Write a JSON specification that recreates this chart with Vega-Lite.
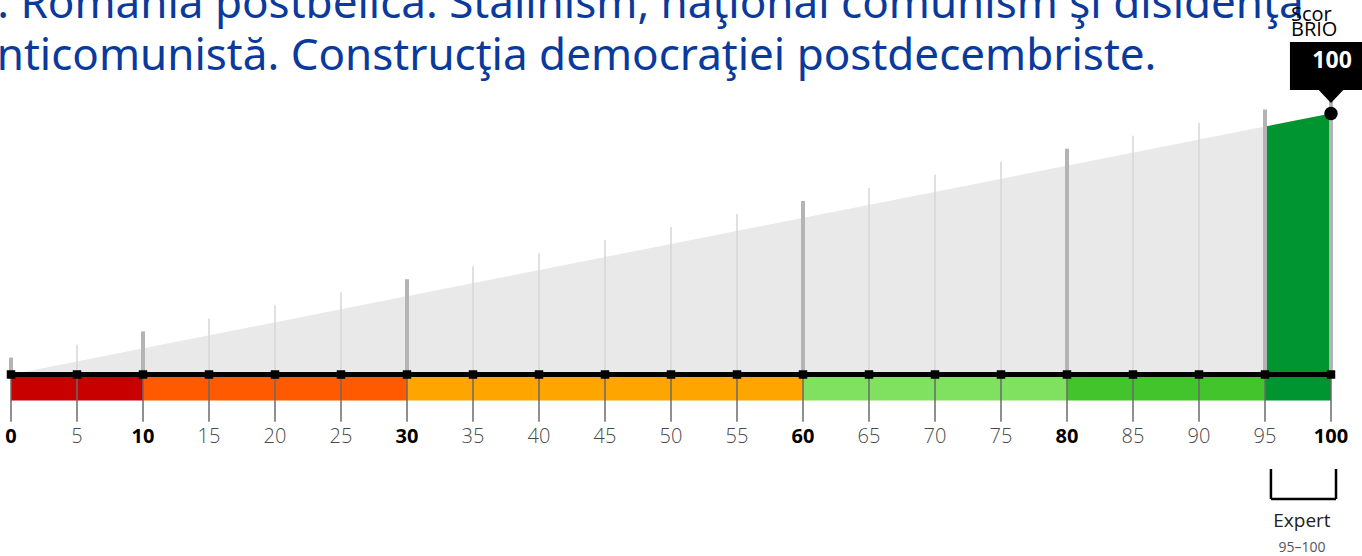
{
  "$schema": "https://vega.github.io/schema/vega-lite/v6.json",
  "width": 1320,
  "height": 556,
  "autosize": "none",
  "padding": {"left": 11, "top": 0, "right": 31, "bottom": 0},
  "background": "white",
  "config": {"view": {"stroke": null}},
  "datasets": {
    "heading": [{"text": "3. România postbelică. Stalinism, naţional comunism şi disidenţa\nanticomunistă. Construcţia democraţiei postdecembriste."}],
    "wedge": [{"x": 0, "y": 0}, {"x": 95, "y": 95}, {"x": 100, "y": 100}],
    "green": [{"x": 95, "y": 95}, {"x": 100, "y": 100}],
    "ticks": [
      {"x": 0, "h": 6.5, "major": true},
      {"x": 5, "h": 11.5, "major": false},
      {"x": 10, "h": 16.5, "major": true},
      {"x": 15, "h": 21.5, "major": false},
      {"x": 20, "h": 26.5, "major": false},
      {"x": 25, "h": 31.5, "major": false},
      {"x": 30, "h": 36.5, "major": true},
      {"x": 35, "h": 41.5, "major": false},
      {"x": 40, "h": 46.5, "major": false},
      {"x": 45, "h": 51.5, "major": false},
      {"x": 50, "h": 56.5, "major": false},
      {"x": 55, "h": 61.5, "major": false},
      {"x": 60, "h": 66.5, "major": true},
      {"x": 65, "h": 71.5, "major": false},
      {"x": 70, "h": 76.5, "major": false},
      {"x": 75, "h": 81.5, "major": false},
      {"x": 80, "h": 86.5, "major": true},
      {"x": 85, "h": 91.5, "major": false},
      {"x": 90, "h": 96.5, "major": false},
      {"x": 95, "h": 101.5, "major": true},
      {"x": 100, "h": 106.5, "major": true}
    ],
    "bands": [
      {"a": 0, "b": 10, "level": "0–10"},
      {"a": 10, "b": 30, "level": "10–30"},
      {"a": 30, "b": 60, "level": "30–60"},
      {"a": 60, "b": 80, "level": "60–80"},
      {"a": 80, "b": 95, "level": "80–95"},
      {"a": 95, "b": 100, "level": "95–100"}
    ],
    "score": [{"score": 100, "name": "Scor\nBRIO"}],
    "expert": [{"a": 95.45, "b": 100.38, "mid": 97.8, "label": "Expert", "range": "95–100"}]
  },
  "layer": [
    {
      "data": {"name": "wedge"},
      "mark": {"type": "area", "color": "#e9e9e9", "interpolate": "linear"},
      "encoding": {
        "x": {"field": "x", "type": "quantitative", "axis": null, "scale": {"domain": [0, 100], "nice": false, "zero": false}},
        "y": {"field": "y", "type": "quantitative", "axis": null, "scale": {"domain": [-69.54, 143.49], "nice": false, "zero": false}},
        "y2": {"datum": 0}
      }
    },
    {
      "data": {"name": "green"},
      "mark": {"type": "area", "color": "#009530"},
      "encoding": {
        "x": {"field": "x", "type": "quantitative", "axis": null},
        "y": {"field": "y", "type": "quantitative", "axis": null},
        "y2": {"datum": 0}
      }
    },
    {
      "data": {"name": "ticks"},
      "transform": [{"filter": "!datum.major"}],
      "mark": {"type": "rule", "color": "#d6d6d6", "strokeWidth": 1.5},
      "encoding": {
        "x": {"field": "x", "type": "quantitative", "axis": null},
        "y": {"field": "h", "type": "quantitative", "axis": null},
        "y2": {"datum": 0}
      }
    },
    {
      "data": {"name": "ticks"},
      "transform": [{"filter": "datum.major"}],
      "mark": {"type": "rule", "color": "#b4b4b4", "strokeWidth": 4},
      "encoding": {
        "x": {"field": "x", "type": "quantitative", "axis": null},
        "y": {"field": "h", "type": "quantitative", "axis": null},
        "y2": {"datum": 0}
      }
    },
    {
      "data": {"name": "bands"},
      "mark": {"type": "rect"},
      "encoding": {
        "x": {"field": "a", "type": "quantitative", "axis": null},
        "x2": {"field": "b"},
        "y": {"datum": 0, "axis": null},
        "y2": {"datum": -10.0},
        "color": {
          "field": "level", "type": "nominal", "legend": null,
          "scale": {"domain": ["0–10", "10–30", "30–60", "60–80", "80–95", "95–100"], "range": ["#c80000", "#ff5a00", "#ffa500", "#80e060", "#44c42c", "#009530"]}
        }
      }
    },
    {
      "data": {"name": "ticks"},
      "mark": {"type": "rule", "color": "#6a6a6a", "strokeWidth": 1.5},
      "encoding": {
        "x": {"field": "x", "type": "quantitative", "axis": null},
        "y": {"datum": 0, "axis": null},
        "y2": {"datum": -18.1}
      }
    },
    {
      "data": {"name": "bands"},
      "mark": {"type": "rule", "color": "#000000", "strokeWidth": 4},
      "encoding": {
        "x": {"datum": 0, "axis": null},
        "x2": {"datum": 100},
        "y": {"datum": 0, "axis": null}
      }
    },
    {
      "data": {"name": "ticks"},
      "mark": {"type": "point", "shape": "square", "filled": true, "color": "#000000", "size": 72, "opacity": 1},
      "encoding": {
        "x": {"field": "x", "type": "quantitative", "axis": null},
        "y": {"datum": 0, "axis": null}
      }
    },
    {
      "data": {"name": "ticks"},
      "transform": [{"filter": "!datum.major || datum.x == 95"}],
      "mark": {"type": "text", "font": "Open Sans", "fontSize": 20, "fontWeight": 300, "color": "#4a4a4a", "align": "center", "baseline": "alphabetic"},
      "encoding": {
        "x": {"field": "x", "type": "quantitative", "axis": null},
        "y": {"datum": -26.2, "axis": null},
        "text": {"field": "x", "type": "quantitative", "format": "d"}
      }
    },
    {
      "data": {"name": "ticks"},
      "transform": [{"filter": "datum.major && datum.x != 95"}],
      "mark": {"type": "text", "font": "Open Sans", "fontSize": 20, "fontWeight": "bold", "color": "#000000", "align": "center", "baseline": "alphabetic"},
      "encoding": {
        "x": {"field": "x", "type": "quantitative", "axis": null},
        "y": {"datum": -26.2, "axis": null},
        "text": {"field": "x", "type": "quantitative", "format": "d"}
      }
    },
    {
      "data": {"name": "heading"},
      "mark": {"type": "text", "font": "Noto Sans", "fontSize": 44, "color": "#0a3a9c", "align": "left", "baseline": "alphabetic", "lineBreak": "\n", "lineHeight": 52},
      "encoding": {
        "x": {"datum": -2.95, "axis": null},
        "y": {"datum": 136.6, "axis": null},
        "text": {"field": "text", "type": "nominal"}
      }
    },
    {
      "data": {"name": "score"},
      "mark": {"type": "point", "shape": "circle", "filled": true, "color": "#000000", "size": 180, "opacity": 1},
      "encoding": {
        "x": {"field": "score", "type": "quantitative", "axis": null},
        "y": {"field": "score", "type": "quantitative", "axis": null}
      }
    },
    {
      "data": {"name": "score"},
      "mark": {"type": "rect", "color": "#000000"},
      "encoding": {
        "x": {"datum": 96.89, "axis": null},
        "x2": {"datum": 102.4},
        "y": {"datum": 109.0, "axis": null},
        "y2": {"datum": 127.4}
      }
    },
    {
      "data": {"name": "score"},
      "mark": {"type": "point", "shape": "M-1,-0.05L1,-0.05L0,1Z", "filled": true, "color": "#000000", "size": 676, "opacity": 1},
      "encoding": {
        "x": {"field": "score", "type": "quantitative", "axis": null},
        "y": {"datum": 109.0, "axis": null}
      }
    },
    {
      "data": {"name": "score"},
      "mark": {"type": "text", "font": "Open Sans", "fontSize": 23, "fontWeight": "bold", "color": "#ffffff", "align": "center", "baseline": "alphabetic"},
      "encoding": {
        "x": {"datum": 100.08, "axis": null},
        "y": {"datum": 117.4, "axis": null},
        "text": {"field": "score", "type": "quantitative", "format": "d"}
      }
    },
    {
      "data": {"name": "score"},
      "mark": {"type": "text", "font": "Open Sans", "fontSize": 20, "color": "#000000", "align": "left", "baseline": "alphabetic", "lineBreak": "\n", "lineHeight": 15},
      "encoding": {
        "x": {"datum": 96.97, "axis": null},
        "y": {"datum": 135.6, "axis": null},
        "text": {"field": "name", "type": "nominal"}
      }
    },
    {
      "data": {"name": "expert"},
      "mark": {"type": "rule", "color": "#000000", "strokeWidth": 2.5},
      "encoding": {
        "x": {"field": "a", "type": "quantitative", "axis": null},
        "y": {"datum": -36.2, "axis": null},
        "y2": {"datum": -47.7}
      }
    },
    {
      "data": {"name": "expert"},
      "mark": {"type": "rule", "color": "#000000", "strokeWidth": 2.5},
      "encoding": {
        "x": {"field": "b", "type": "quantitative", "axis": null},
        "y": {"datum": -36.2, "axis": null},
        "y2": {"datum": -47.7}
      }
    },
    {
      "data": {"name": "expert"},
      "mark": {"type": "rule", "color": "#000000", "strokeWidth": 2.5},
      "encoding": {
        "x": {"field": "a", "type": "quantitative", "axis": null},
        "x2": {"field": "b"},
        "y": {"datum": -47.7, "axis": null}
      }
    },
    {
      "data": {"name": "expert"},
      "mark": {"type": "text", "font": "Open Sans", "fontSize": 19, "color": "#222222", "align": "center", "baseline": "alphabetic"},
      "encoding": {
        "x": {"field": "mid", "type": "quantitative", "axis": null},
        "y": {"datum": -58.4, "axis": null},
        "text": {"field": "label", "type": "nominal"}
      }
    },
    {
      "data": {"name": "expert"},
      "mark": {"type": "text", "font": "Open Sans", "fontSize": 14, "color": "#555555", "align": "center", "baseline": "alphabetic"},
      "encoding": {
        "x": {"field": "mid", "type": "quantitative", "axis": null},
        "y": {"datum": -68.0, "axis": null},
        "text": {"field": "range", "type": "nominal"}
      }
    }
  ]
}
